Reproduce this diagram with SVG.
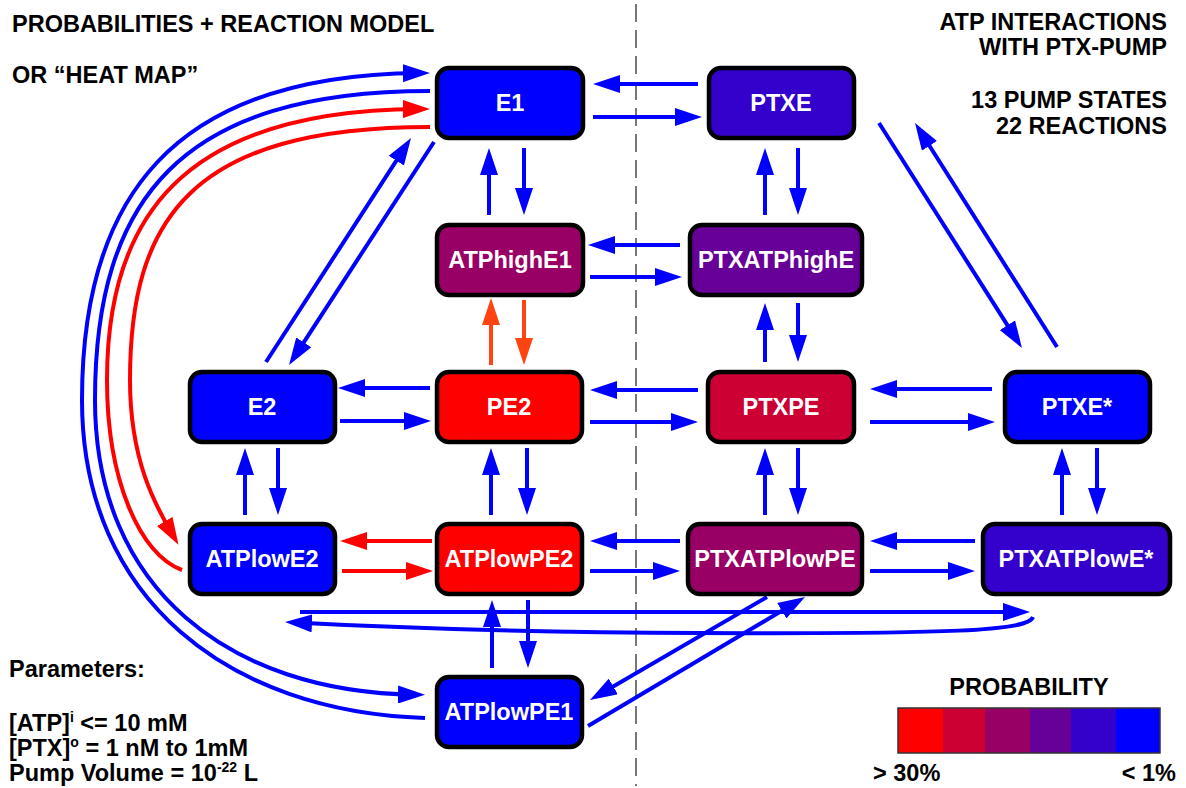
<svg xmlns="http://www.w3.org/2000/svg" width="1186" height="788" viewBox="0 0 1186 788">
<style>
.t{font-family:"Liberation Sans",Arial,sans-serif;font-weight:bold;font-size:23.5px;fill:#000}
.n rect{stroke:#000;stroke-width:4.5}
.n text{font-family:"Liberation Sans",Arial,sans-serif;font-weight:bold;font-size:23.5px;fill:#fff;text-anchor:middle}
.b{fill:none;stroke:#0000FF;stroke-width:4;marker-end:url(#ab)}
.r{fill:none;stroke:#FF0000;stroke-width:4;marker-end:url(#ar)}
.o{fill:none;stroke:#FF4411;stroke-width:4;marker-end:url(#ao)}
</style>
<defs>
<marker id="ab" markerUnits="userSpaceOnUse" markerWidth="27" markerHeight="18" refX="17" refY="9" orient="auto"><path d="M0,0 L27,9 L0,18 z" fill="#0000FF"/></marker>
<marker id="ar" markerUnits="userSpaceOnUse" markerWidth="27" markerHeight="18" refX="17" refY="9" orient="auto"><path d="M0,0 L27,9 L0,18 z" fill="#FF0000"/></marker>
<marker id="ao" markerUnits="userSpaceOnUse" markerWidth="27" markerHeight="18" refX="17" refY="9" orient="auto"><path d="M0,0 L27,9 L0,18 z" fill="#FF4411"/></marker>
</defs>
<rect x="0" y="0" width="1186" height="788" fill="#fff"/>
<line x1="636" y1="4" x2="636" y2="786" stroke="#777" stroke-width="2" stroke-dasharray="18 8"/>

<g id="texts">
<text class="t" x="12" y="32">PROBABILITIES + REACTION MODEL</text>
<text class="t" x="12" y="83">OR “HEAT MAP”</text>
<text class="t" x="1167" y="30" text-anchor="end">ATP INTERACTIONS</text>
<text class="t" x="1167" y="55" text-anchor="end">WITH PTX-PUMP</text>
<text class="t" x="1167" y="108" text-anchor="end">13 PUMP STATES</text>
<text class="t" x="1167" y="134" text-anchor="end">22 REACTIONS</text>
<text class="t" x="9" y="677">Parameters:</text>
<text class="t" x="9" y="731">[ATP]<tspan font-size="14" dy="-9">i</tspan><tspan dy="9"> &lt;= 10 mM</tspan></text>
<text class="t" x="9" y="756">[PTX]<tspan font-size="14" dy="-9">o</tspan><tspan dy="9"> = 1 nM to 1mM</tspan></text>
<text class="t" x="9" y="781">Pump Volume = 10<tspan font-size="14" dy="-9">-22</tspan><tspan dy="9"> L</tspan></text>
</g>

<g id="legend">
<text class="t" x="1029" y="695" text-anchor="middle">PROBABILITY</text>
<rect x="898" y="708" width="45" height="45" fill="#FF0000"/>
<rect x="943" y="708" width="42" height="45" fill="#CC0033"/>
<rect x="985" y="708" width="45" height="45" fill="#990066"/>
<rect x="1030" y="708" width="41" height="45" fill="#660099"/>
<rect x="1071" y="708" width="45" height="45" fill="#3300CC"/>
<rect x="1116" y="708" width="44" height="45" fill="#0000FF"/>
<rect x="898" y="708" width="262" height="45" fill="none" stroke="#333" stroke-width="1.5"/>
<text class="t" x="873" y="781">&gt; 30%</text>
<text class="t" x="1176" y="781" text-anchor="end">&lt; 1%</text>
</g>

<g id="connectors">
<path class="b" d="M698,84 H603"/>
<path class="b" d="M593,117 H692"/>
<path class="b" d="M489,215 V158"/>
<path class="b" d="M524,148 V205"/>
<path class="b" d="M765,215 V158"/>
<path class="b" d="M798,148 V205"/>
<path class="b" d="M680,245 H598"/>
<path class="b" d="M590,277 H672"/>
<path class="b" d="M765,362 V313"/>
<path class="b" d="M798,303 V352"/>
<path class="o" d="M491,365 V308"/>
<path class="o" d="M524,300 V355"/>
<path class="b" d="M430,388 H348"/>
<path class="b" d="M340,421 H421"/>
<path class="b" d="M698,390 H600"/>
<path class="b" d="M590,422 H688"/>
<path class="b" d="M992,389 H880"/>
<path class="b" d="M870,422 H985"/>
<path class="b" d="M266,362 L405.6,146.4"/>
<path class="b" d="M434,142 L294.5,356.6"/>
<path class="b" d="M879,123 L1016.6,339.6"/>
<path class="b" d="M1057,347 L920.4,131.5"/>
<path class="b" d="M245,515 V458"/>
<path class="b" d="M278,448 V505"/>
<path class="b" d="M491,515 V458"/>
<path class="b" d="M527,448 V505"/>
<path class="b" d="M765,515 V458"/>
<path class="b" d="M798,448 V505"/>
<path class="b" d="M1062,515 V458"/>
<path class="b" d="M1097,448 V505"/>
<path class="r" d="M432,541 H350"/>
<path class="r" d="M342,571 H423"/>
<path class="b" d="M680,541 H600"/>
<path class="b" d="M590,571 H670"/>
<path class="b" d="M975,541 H880"/>
<path class="b" d="M870,571 H965"/>
<path class="b" d="M492,668 V610"/>
<path class="b" d="M528,600 V658"/>
<path class="b" d="M767,597 L598.6,695"/>
<path class="b" d="M588,726 L796.4,602.1"/>
<path class="b" d="M300,612 H1020"/>
<path class="b" d="M1033,617 C1028,631 950,634 700,633 C500,632 380,627 295,622.5"/>
<path class="b" d="M425,718 C230,712 82,600 82,400 C82,200 170,75 420,73"/>
<path class="b" d="M430,91 C180,91 95,200 95,400 C95,590 230,692 415,694.7"/>
<path class="r" d="M182,570 C140,555 107,480 107,380 C107,220 180,110 420,109"/>
<path class="r" d="M430,127 C190,127 130,220 130,380 C130,460 155,505 173.4,536.1"/>
</g>

<g id="E1" class="n"><rect x="437" y="68" width="146" height="70" rx="12" fill="#0000FF"/><text x="510" y="111">E1</text></g>
<g id="PTXE" class="n"><rect x="709" y="68" width="145" height="70" rx="12" fill="#3300CC"/><text x="781" y="111">PTXE</text></g>
<g id="ATPhighE1" class="n"><rect x="437" y="225" width="146" height="70" rx="12" fill="#990066"/><text x="510" y="268">ATPhighE1</text></g>
<g id="PTXATPhighE" class="n"><rect x="690" y="225" width="172" height="70" rx="12" fill="#660099"/><text x="776" y="268">PTXATPhighE</text></g>
<g id="E2" class="n"><rect x="190" y="372" width="145" height="70" rx="12" fill="#0000FF"/><text x="262" y="415">E2</text></g>
<g id="PE2" class="n"><rect x="437" y="372" width="145" height="70" rx="12" fill="#FF0000"/><text x="509" y="415">PE2</text></g>
<g id="PTXPE" class="n"><rect x="708" y="372" width="146" height="70" rx="12" fill="#CC0033"/><text x="781" y="415">PTXPE</text></g>
<g id="PTXEstar" class="n"><rect x="1005" y="372" width="145" height="70" rx="12" fill="#0000FF"/><text x="1077" y="415">PTXE*</text></g>
<g id="ATPlowE2" class="n"><rect x="190" y="524" width="145" height="70" rx="12" fill="#0000FF"/><text x="262" y="567">ATPlowE2</text></g>
<g id="ATPlowPE2" class="n"><rect x="437" y="524" width="145" height="70" rx="12" fill="#FF0000"/><text x="509" y="567">ATPlowPE2</text></g>
<g id="PTXATPlowPE" class="n"><rect x="688" y="524" width="174" height="70" rx="12" fill="#990066"/><text x="775" y="567">PTXATPlowPE</text></g>
<g id="PTXATPlowEstar" class="n"><rect x="983" y="524" width="187" height="70" rx="12" fill="#3300CC"/><text x="1076" y="567">PTXATPlowE*</text></g>
<g id="ATPlowPE1" class="n"><rect x="437" y="677" width="145" height="70" rx="12" fill="#0000FF"/><text x="509" y="720">ATPlowPE1</text></g>
</svg>
